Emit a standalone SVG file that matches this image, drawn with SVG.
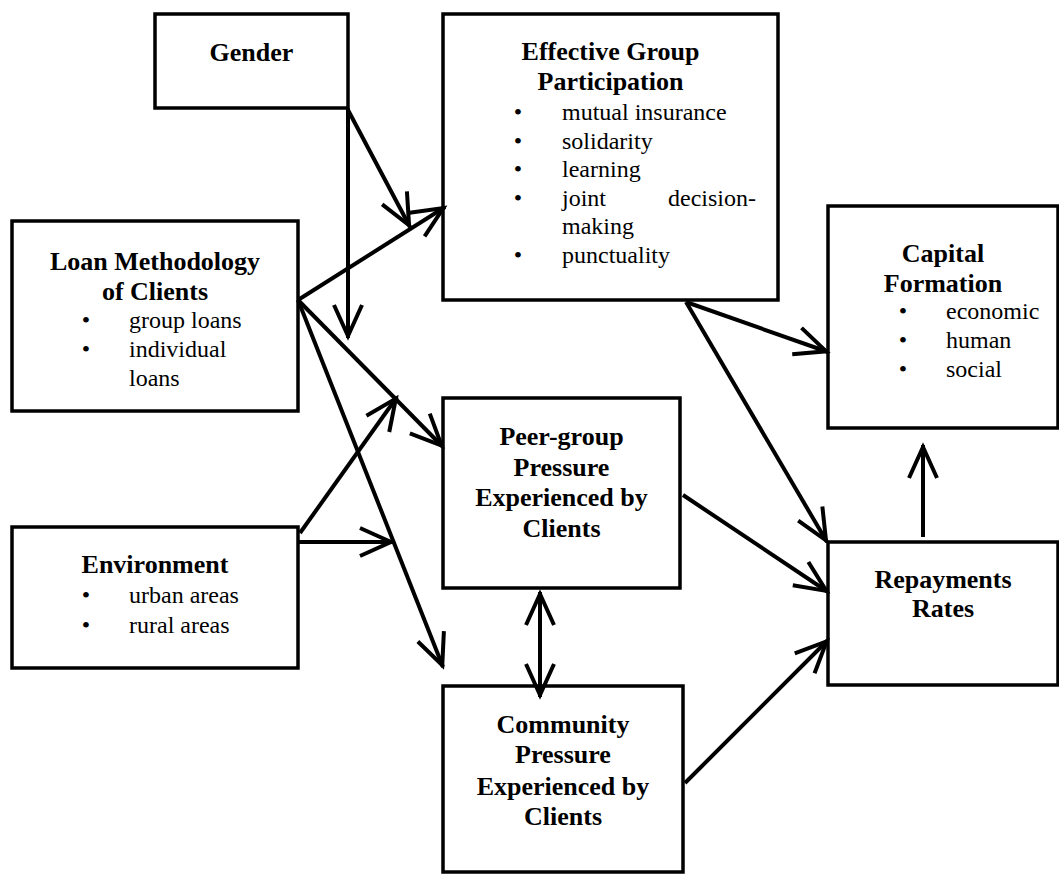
<svg xmlns="http://www.w3.org/2000/svg" width="1059" height="876" viewBox="0 0 1059 876">
<style>
.box{fill:#fff;stroke:#000;stroke-width:3.5}
.t{font-family:"Liberation Serif","Times New Roman",serif;font-size:26px;font-weight:bold;text-anchor:middle;fill:#000}
.b{font-family:"Liberation Serif","Times New Roman",serif;font-size:24px;fill:#000}
.bl{font-family:"Liberation Serif","Times New Roman",serif;font-size:24px;text-anchor:middle;fill:#000}
.c{stroke:#000;stroke-width:4;fill:none;marker-end:url(#ah)}
</style>
<defs>
<marker id="ah" markerUnits="userSpaceOnUse" orient="auto-start-reverse" refX="0" refY="0" markerWidth="1" markerHeight="1" overflow="visible">
<path d="M-33,-14 L-2,0 L-33,14" fill="none" stroke="#000" stroke-width="4"/>
</marker>
</defs>
<rect width="1059" height="876" fill="#fff"/>

<g id="gender">
<rect class="box" x="155" y="14" width="193" height="94"/>
<text class="t" x="251.5" y="61">Gender</text>
</g>

<g id="effective">
<rect class="box" x="443" y="14" width="335" height="286"/>
<text class="t" x="610.5" y="60">Effective Group</text>
<text class="t" x="610.5" y="90">Participation</text>
<text class="bl" x="518" y="120">•</text><text class="b" x="562" y="120">mutual insurance</text>
<text class="bl" x="518" y="148.5">•</text><text class="b" x="562" y="148.5">solidarity</text>
<text class="bl" x="518" y="177">•</text><text class="b" x="562" y="177">learning</text>
<text class="bl" x="518" y="205.5">•</text><text class="b" x="562" y="205.5">joint</text><text class="b" x="756" y="205.5" text-anchor="end">decision-</text>
<text class="b" x="562" y="234">making</text>
<text class="bl" x="518" y="262.5">•</text><text class="b" x="562" y="262.5">punctuality</text>
</g>

<g id="loan">
<rect class="box" x="12" y="221" width="286" height="190"/>
<text class="t" x="155" y="270">Loan Methodology</text>
<text class="t" x="155" y="300">of Clients</text>
<text class="bl" x="86" y="328">•</text><text class="b" x="129" y="328">group loans</text>
<text class="bl" x="86" y="357">•</text><text class="b" x="129" y="357">individual</text>
<text class="b" x="129" y="386">loans</text>
</g>

<g id="environment">
<rect class="box" x="12" y="527" width="286" height="141"/>
<text class="t" x="155" y="573">Environment</text>
<text class="bl" x="86" y="603">•</text><text class="b" x="129" y="603">urban areas</text>
<text class="bl" x="86" y="633">•</text><text class="b" x="129" y="633">rural areas</text>
</g>

<g id="peer">
<rect class="box" x="443" y="398" width="237" height="190"/>
<text class="t" x="561.5" y="445">Peer-group</text>
<text class="t" x="561.5" y="476">Pressure</text>
<text class="t" x="561.5" y="506">Experienced by</text>
<text class="t" x="561.5" y="537">Clients</text>
</g>

<g id="community">
<rect class="box" x="443" y="686" width="240" height="186"/>
<text class="t" x="563" y="733">Community</text>
<text class="t" x="563" y="763">Pressure</text>
<text class="t" x="563" y="795">Experienced by</text>
<text class="t" x="563" y="825">Clients</text>
</g>

<g id="capital">
<rect class="box" x="828" y="206" width="230" height="222"/>
<text class="t" x="943" y="262">Capital</text>
<text class="t" x="943" y="292">Formation</text>
<text class="bl" x="903" y="319">•</text><text class="b" x="946" y="319">economic</text>
<text class="bl" x="903" y="348">•</text><text class="b" x="946" y="348">human</text>
<text class="bl" x="903" y="377">•</text><text class="b" x="946" y="377">social</text>
</g>

<g id="repayment">
<rect class="box" x="828" y="542" width="230" height="143"/>
<text class="t" x="943" y="588">Repayments</text>
<text class="t" x="943" y="617">Rates</text>
</g>

<g id="connectors">
<path class="c" d="M348,108 L348,338"/>
<path class="c" d="M348,110 L410,227"/>
<path class="c" d="M298,300 L445,207"/>
<path class="c" d="M298,300 L443,447"/>
<path class="c" d="M298,300 L443,667"/>
<path class="c" d="M300,533 L397,397"/>
<path class="c" d="M298,542 L393,542"/>
<path class="c" d="M686,302 L828,352"/>
<path class="c" d="M686,302 L827,542"/>
<path class="c" d="M683,495 L828,592"/>
<path class="c" d="M685,783 L828,640"/>
<path class="c" d="M923,537 L923,445"/>
<path class="c" d="M540,592 L540,697" marker-start="url(#ah)"/>
</g>
</svg>
